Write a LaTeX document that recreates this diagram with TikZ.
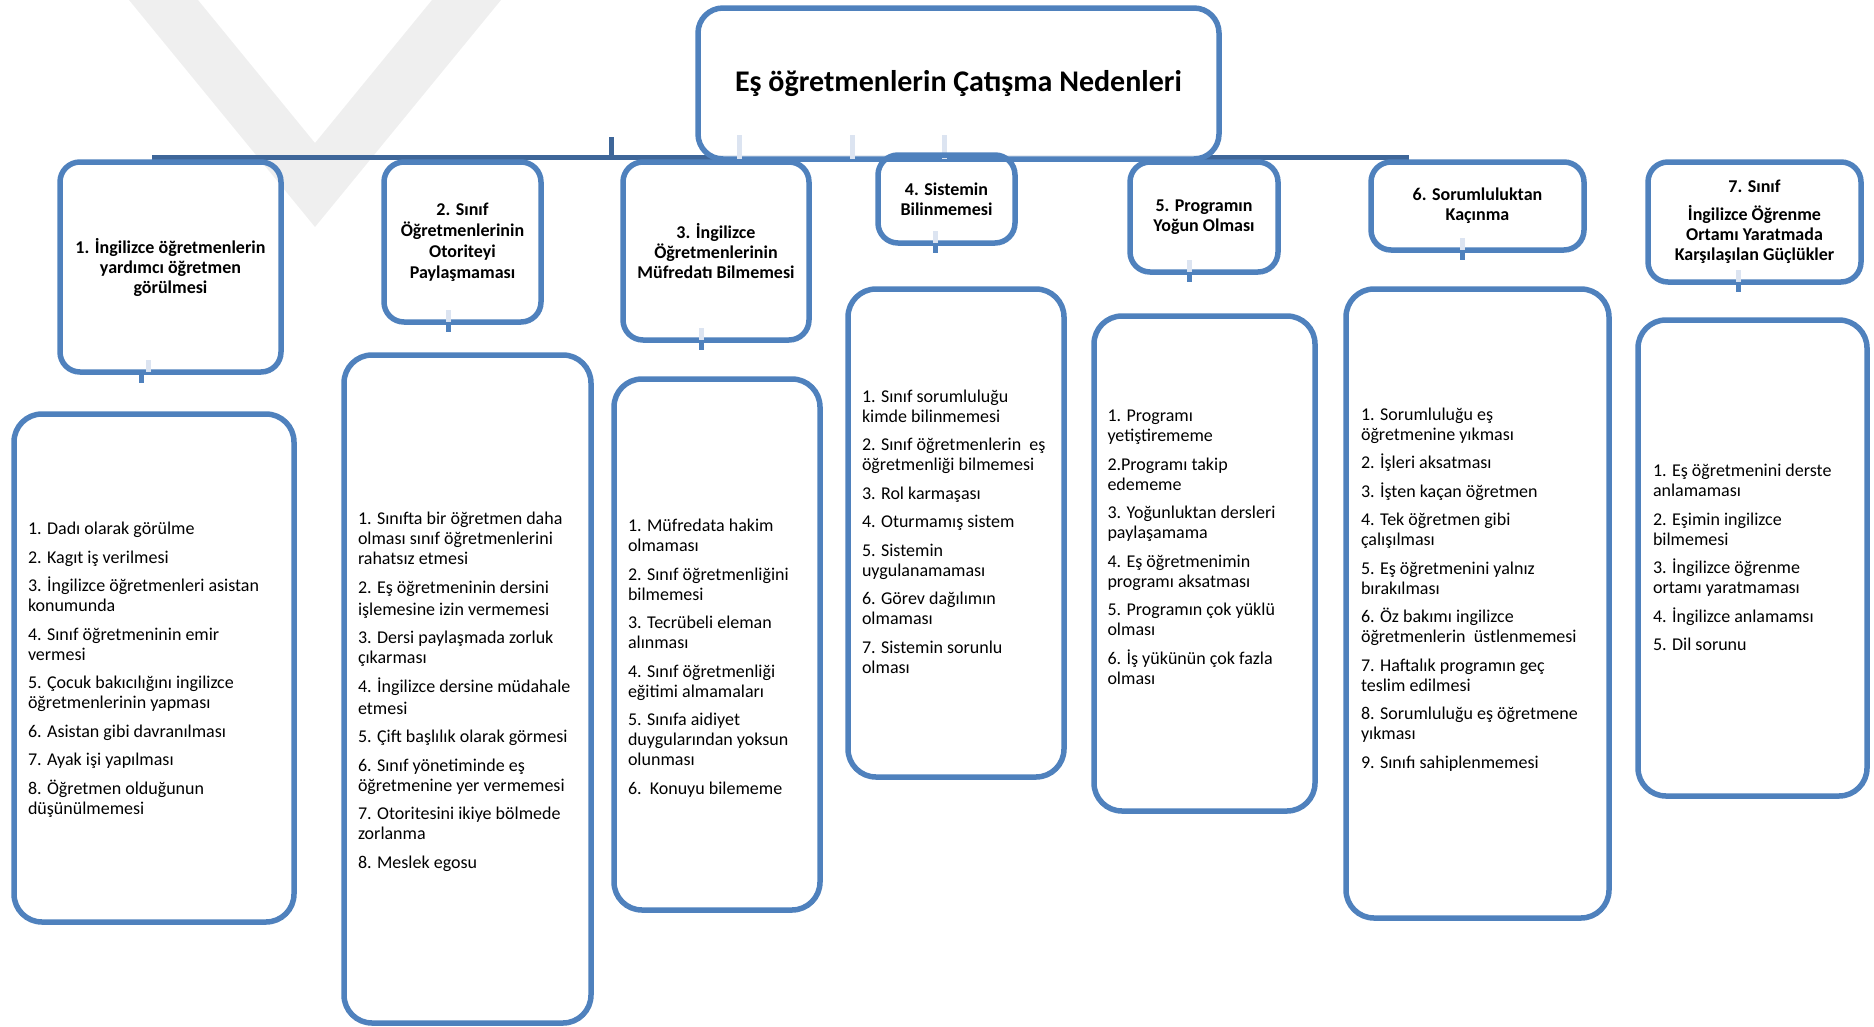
\documentclass[tikz,border=0pt]{standalone}
\usepackage{fontspec}
\setmainfont{Carlito}
\definecolor{boxblue}{HTML}{4F81BD}
\definecolor{bardark}{HTML}{3E6699}
\definecolor{ghost}{HTML}{DCE4F1}
\definecolor{wmgray}{HTML}{EFEFEF}
\tikzset{
  hdrbox/.style={draw=boxblue, line width=5.5pt, rounded corners=20pt, outer sep=0pt, inner sep=2pt,
    align=center, font=\fontsize{18}{20}\selectfont\bfseries, text=black},
  listbox/.style={draw=boxblue, line width=5.5pt, rounded corners=28pt, outer sep=0pt, inner sep=0pt},
  listtext/.style={anchor=north west, inner sep=0pt, outer sep=0pt, align=left,
    font=\fontsize{18}{20}\selectfont, text=black},
  barline/.style={draw=bardark, line width=5pt},
  stubdark/.style={draw=boxblue, line width=5pt},
  stublight/.style={draw=ghost, line width=5pt},
}
\begin{document}
\begin{tikzpicture}[x=1pt, y=-1pt]
\useasboundingbox (0,0) rectangle (1874,1026);
% faint watermark
\fill[wmgray] (129,0) -- (198,0) -- (315,143) -- (432,0) -- (501,0) -- (315,227) -- cycle;

% connector bar
\coordinate (barL) at (152,157.5);
\coordinate (barR) at (1409,157.5);
\coordinate (upT) at (611,137);
\coordinate (upB) at (611,157.5);
\draw[barline] (barL) -- (barR);
\draw[barline] (upT) -- (upB);

% title
\node[draw=boxblue, line width=5.5pt, rounded corners=25pt, fill=white, fill opacity=0.88, text opacity=1,
  outer sep=0pt, minimum width=521pt, minimum height=151pt,
  font=\fontsize{30}{35}\selectfont\bfseries] (title) at (958.5,83.5) {Eş öğretmenlerin Çatışma Nedenleri};
\coordinate (g1) at (739,135); \coordinate (g2) at (852,135); \coordinate (g3) at (944,135);
\draw[stublight] (g1) -- (title.south -| g1);
\draw[stublight] (g2) -- (title.south -| g2);
\draw[stublight] (g3) -- (title.south -| g3);

% header boxes
\node[hdrbox, minimum width=221pt, minimum height=210pt] (h1) at (170.5,267) {1. İngilizce öğretmenlerin\\yardımcı öğretmen\\görülmesi};
\node[hdrbox, minimum width=157pt, minimum height=160pt, font=\fontsize{18}{21}\selectfont\bfseries] (h2) at (462.5,242) {2. Sınıf\\Öğretmenlerinin\\Otoriteyi\\Paylaşmaması};
\node[hdrbox, minimum width=186pt, minimum height=178pt] (h3) at (716,251) {3. İngilizce\\Öğretmenlerinin\\Müfredatı Bilmemesi};
\node[hdrbox, minimum width=137pt, minimum height=88pt] (h4) at (946.5,199) {4. Sistemin\\Bilinmemesi};
\node[hdrbox, minimum width=148pt, minimum height=110pt] (h5) at (1204,217) {5. Programın\\Yoğun Olması};
\node[hdrbox, minimum width=213pt, minimum height=88pt] (h6) at (1477.5,206) {6. Sorumluluktan\\Kaçınma};
\node[hdrbox, minimum width=213pt, minimum height=120pt] (h7) at (1754.5,222) {7. Sınıf\\[8pt]İngilizce Öğrenme\\Ortamı Yaratmada\\Karşılaşılan Güçlükler};

% stubs below header boxes
\draw[stublight] ([xshift=-22.5pt,yshift=12pt]h1.south) -- ([xshift=-22.5pt]h1.south);
\draw[stubdark] ([xshift=-29.5pt]h1.south) -- ++(0,11);
\foreach \n/\dx in {h2/-14.5, h3/-15, h4/-11.5, h5/-15, h6/-15.5, h7/-16}{
  \draw[stublight] ([xshift=\dx pt,yshift=12pt]\n.south) -- ([xshift=\dx pt]\n.south);
  \draw[stubdark] ([xshift=\dx pt]\n.south) -- ++(0,10);
}

% list boxes
\node[listbox, minimum width=280pt, minimum height=508pt] (l1) at (154,668) {};
\node[listbox, minimum width=247pt, minimum height=668pt] (l2) at (467.5,689) {};
\node[listbox, minimum width=206pt, minimum height=531pt] (l3) at (717,644.5) {};
\node[listbox, minimum width=216pt, minimum height=488pt] (l4) at (956,533) {};
\node[listbox, minimum width=221pt, minimum height=495pt] (l5) at (1204.5,563.5) {};
\node[listbox, minimum width=263pt, minimum height=629pt] (l6) at (1477.5,603.5) {};
\node[listbox, minimum width=229pt, minimum height=476pt] (l7) at (1752.5,558) {};

% list texts
\node[listtext] (t1) at (28,518.7) {\rule{0pt}{16pt}1. Dadı olarak görülme\\[8.5pt]
2. Kagıt iş verilmesi\\[8.5pt]
3. İngilizce öğretmenleri asistan\\konumunda\\[8.5pt]
4. Sınıf öğretmeninin emir\\vermesi\\[8.5pt]
5. Çocuk bakıcılığını ingilizce\\öğretmenlerinin yapması\\[8.5pt]
6. Asistan gibi davranılması\\[8.5pt]
7. Ayak işi yapılması\\[8.5pt]
8. Öğretmen olduğunun\\düşünülmemesi};

\node[listtext] (t2) at (358,508.8) {\rule{0pt}{16pt}1. Sınıfta bir öğretmen daha\\olması sınıf öğretmenlerini\\rahatsız etmesi\\[8.5pt]
2. Eş öğretmeninin dersini\\[2pt]işlemesine izin vermemesi\\[8.5pt]
3. Dersi paylaşmada zorluk\\çıkarması\\[8.5pt]
4. İngilizce dersine müdahale\\[2pt]etmesi\\[8.5pt]
5. Çift başlılık olarak görmesi\\[8.5pt]
6. Sınıf yönetiminde eş\\öğretmenine yer vermemesi\\[8.5pt]
7. Otoritesini ikiye bölmede\\zorlanma\\[8.5pt]
8. Meslek egosu};

\node[listtext] (t3) at (628,515.5) {\rule{0pt}{16pt}1. Müfredata hakim\\olmaması\\[8.5pt]
2. Sınıf öğretmenliğini\\bilmemesi\\[8.5pt]
3. Tecrübeli eleman\\alınması\\[8.5pt]
4. Sınıf öğretmenliği\\eğitimi almamaları\\[8.5pt]
5. Sınıfa aidiyet\\duygularından yoksun\\olunması\\[8.5pt]
6.\ \ Konuyu bilememe};

\node[listtext] (t4) at (862,386.3) {\rule{0pt}{16pt}1. Sınıf sorumluluğu\\kimde bilinmemesi\\[8.5pt]
2. Sınıf öğretmenlerin\ \ eş\\öğretmenliği bilmemesi\\[8.5pt]
3. Rol karmaşası\\[8.5pt]
4. Oturmamış sistem\\[8.5pt]
5. Sistemin\\uygulanamaması\\[8.5pt]
6. Görev dağılımın\\olmaması\\[8.5pt]
7. Sistemin sorunlu\\olması};

\node[listtext] (t5) at (1107.5,405.6) {\rule{0pt}{16pt}1. Programı\\yetiştirememe\\[8.5pt]
2.Programı takip\\edememe\\[8.5pt]
3. Yoğunluktan dersleri\\paylaşamama\\[8.5pt]
4. Eş öğretmenimin\\programı aksatması\\[8.5pt]
5. Programın çok yüklü\\olması\\[8.5pt]
6. İş yükünün çok fazla\\olması};

\node[listtext] (t6) at (1361,404.3) {\rule{0pt}{16pt}1. Sorumluluğu eş\\öğretmenine yıkması\\[8.5pt]
2. İşleri aksatması\\[8.5pt]
3. İşten kaçan öğretmen\\[8.5pt]
4. Tek öğretmen gibi\\çalışılması\\[8.5pt]
5. Eş öğretmenini yalnız\\bırakılması\\[8.5pt]
6. Öz bakımı ingilizce\\öğretmenlerin\ \ üstlenmemesi\\[8.5pt]
7. Haftalık programın geç\\teslim edilmesi\\[8.5pt]
8. Sorumluluğu eş öğretmene\\yıkması\\[8.5pt]
9. Sınıfı sahiplenmemesi};

\node[listtext] (t7) at (1653,460.7) {\rule{0pt}{16pt}1. Eş öğretmenini derste\\anlamaması\\[8.5pt]
2. Eşimin ingilizce\\bilmemesi\\[8.5pt]
3. İngilizce öğrenme\\ortamı yaratmaması\\[8.5pt]
4. İngilizce anlamamsı\\[8.5pt]
5. Dil sorunu};
\end{tikzpicture}
\end{document}
